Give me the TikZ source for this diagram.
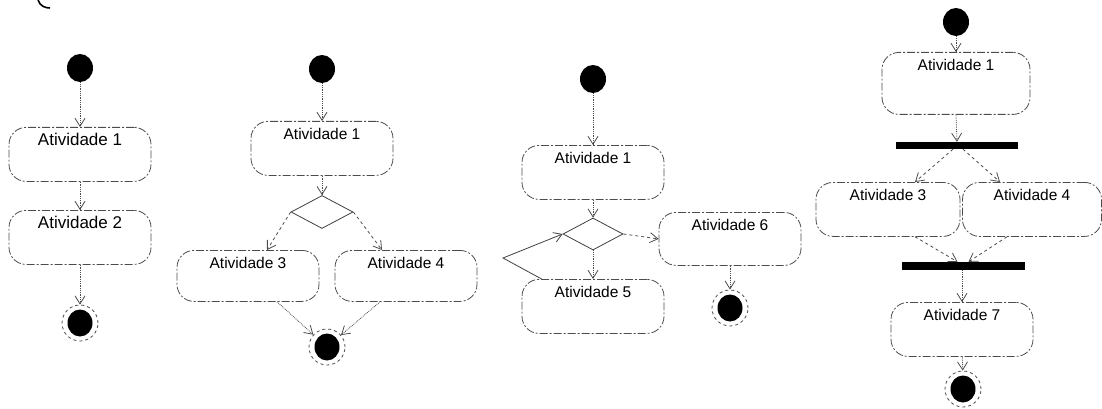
\documentclass[tikz,border=0pt]{standalone}
\usepackage{fontspec}
\setmainfont{Liberation Sans}
\usetikzlibrary{arrows.meta,shapes.geometric,calc}
\begin{document}
\begin{tikzpicture}[x=1pt,y=-1pt,
  act/.style={draw=black!70, dash pattern=on 8pt off 2pt on 2pt off 2pt, line width=0.8pt,
    rounded corners=17pt, minimum width=142pt, text height=12pt, text depth=30pt,
    inner ysep=6pt, inner xsep=0pt, font=\fontsize{15.5}{18}\selectfont, anchor=north},
  startnode/.style={ellipse, fill=black, minimum width=26pt, minimum height=28pt, inner sep=0pt},
  endnode/.style={circle, draw=black!70, dashed, line width=0.8pt, minimum size=36pt, inner sep=0pt,
    path picture={\fill[black] (path picture bounding box.center) ellipse (12.5pt and 13.5pt);}},
  decision/.style={diamond, draw=black!75, line width=0.8pt, minimum width=62pt,
    minimum height=33pt, inner sep=0pt, aspect=1.9},
  bar/.style={rectangle, fill=black, minimum width=122pt, minimum height=7pt, inner sep=0pt},
  flow/.style={draw=black!70, densely dotted, line width=0.8pt, -{Straight Barb[length=8pt,width=10pt]}},
  backline/.style={draw=black!75, line width=0.8pt, -{Straight Barb[length=8pt,width=10pt]}},
  ]
\useasboundingbox (0,0) rectangle (1102,409);
\draw[line width=1.6pt] (38,0) .. controls (40,6) and (45,8) .. (50,8);

% Diagram 1
\node[startnode] (s1) at (80,68) {};
\node[act, font=\fontsize{17}{19}\selectfont] (d1a1) at (80,127) {Atividade 1};
\node[act, font=\fontsize{17}{19}\selectfont] (d1a2) at (80,210) {Atividade 2};
\node[endnode] (e1) at (80,323) {};
\draw[flow] (s1) -- (d1a1);
\draw[flow] (d1a1) -- (d1a2);
\draw[flow] (d1a2) -- (e1);

% Diagram 2
\node[startnode] (s2) at (322,69) {};
\node[act] (d2a1) at (322,121) {Atividade 1};
\node[decision] (dec2) at (322,212) {};
\node[act, text depth=27pt] (d2a3) at (248,250) {Atividade 3};
\node[act, text depth=27pt] (d2a4) at (406,250) {Atividade 4};
\node[endnode] (e2) at (327,347) {};
\draw[flow] (s2) -- (d2a1);
\draw[flow] (d2a1) -- (dec2);
\draw[flow, dashed] (dec2.west) -- ($(d2a3.north)+(19,0)$);
\draw[flow, dashed] (dec2.east) -- ($(d2a4.north)+(-24,0)$);
\draw[flow] ($(d2a3.south)+(29,0)$) -- (e2);
\draw[flow] ($(d2a4.south)+(-26,0)$) -- (e2);

% Diagram 3
\node[startnode] (s3) at (593,79) {};
\node[act] (d3a1) at (593,145) {Atividade 1};
\node[decision, minimum width=60pt, minimum height=32pt] (dec3) at (593,234) {};
\node[act, text depth=29pt] (d3a6) at (730,212) {Atividade 6};
\node[endnode] (e3) at (730,308) {};
\node[act] (d3a5) at (593,279) {Atividade 5};
\coordinate (lp) at (503,258);
\draw[flow] (s3) -- (d3a1);
\draw[flow] (d3a1) -- (dec3);
\draw[flow, dashed] (dec3.east) -- (d3a6.west);
\draw[flow] (d3a6) -- (e3);
\draw[flow] (dec3) -- (d3a5);
\draw[backline] ($(d3a5.north west)+(20,0)$) -- (lp) -- (dec3.west);

% Diagram 4
\node[startnode] (s4) at (956,22) {};
\node[act, minimum width=148pt, text depth=38pt] (d4a1) at (956,52) {Atividade 1};
\node[bar] (b1) at (957,145.5) {};
\node[act, minimum width=144pt] (d4a3) at (888,182) {Atividade 3};
\node[act, minimum width=139pt] (d4a4) at (1032,182) {Atividade 4};
\node[bar, minimum width=123pt, minimum height=8pt] (b2) at (963.5,266) {};
\node[act] (d4a7) at (962,302) {Atividade 7};
\node[endnode] (e4) at (963,389) {};
\draw[flow] (s4) -- (d4a1);
\draw[flow] (d4a1.south) -- (b1.north);
\draw[flow, dashed] ($(b1.south)+(-4,0)$) -- ($(d4a3.north)+(27,0)$);
\draw[flow, dashed] ($(b1.south)+(6,0)$) -- ($(d4a4.north)+(-32,0)$);
\draw[flow, dashed] ($(d4a3.south)+(27,0)$) -- ($(b2.north)+(-6,0)$);
\draw[flow, dashed] ($(d4a4.south)+(-25,0)$) -- ($(b2.north)+(5,0)$);
\draw[flow] ($(b2.south)+(-1.5,0)$) -- (d4a7.north);
\draw[flow] (d4a7) -- (e4);
\end{tikzpicture}
\end{document}
